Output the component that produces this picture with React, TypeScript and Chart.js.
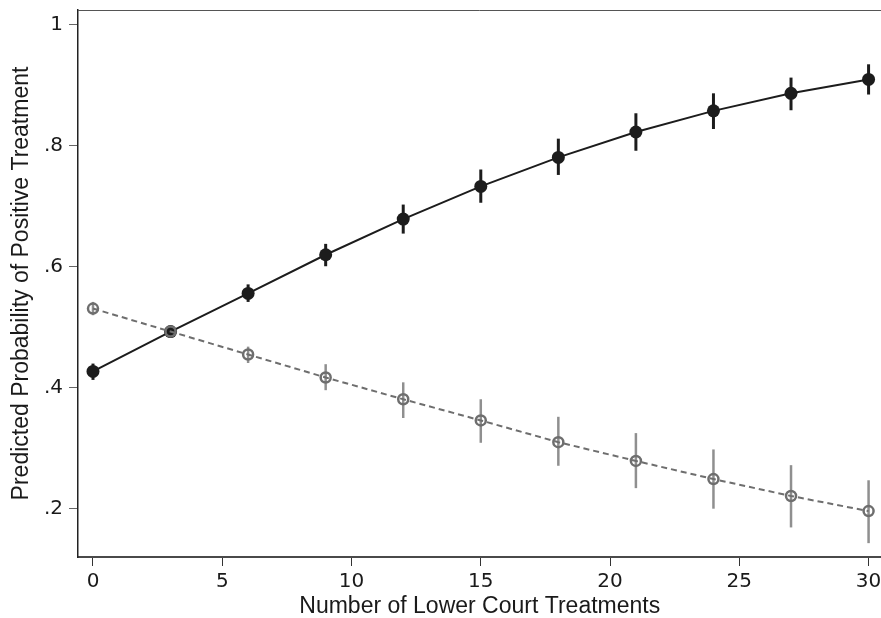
import React, { useEffect, useRef } from "react";
import { Chart, registerables } from "chart.js";

Chart.register(...registerables);

const xValues = [0, 3, 6, 9, 12, 15, 18, 21, 24, 27, 30];
const positiveMean = [0.427, 0.493, 0.556, 0.62, 0.679, 0.733, 0.781, 0.823, 0.858, 0.887, 0.91];
const positiveLow = [0.413, 0.486, 0.542, 0.601, 0.655, 0.706, 0.752, 0.792, 0.828, 0.859, 0.885];
const positiveHigh = [0.44, 0.5, 0.571, 0.638, 0.703, 0.761, 0.812, 0.854, 0.887, 0.913, 0.935];
const negativeMean = [0.531, 0.493, 0.455, 0.417, 0.381, 0.346, 0.31, 0.279, 0.249, 0.221, 0.196];
const negativeLow = [0.52, 0.487, 0.441, 0.396, 0.35, 0.309, 0.271, 0.234, 0.2, 0.169, 0.143];
const negativeHigh = [0.542, 0.5, 0.468, 0.439, 0.409, 0.381, 0.352, 0.325, 0.298, 0.272, 0.247];
const xTicks = [0, 5, 10, 15, 20, 25, 30];
const yTicks = [0.2, 0.4, 0.6, 0.8, 1];
const yTickLabels = [".2", ".4", ".6", ".8", "1"];

const errorBars = {
  id: "errorBars",
  beforeDatasetsDraw(chart: any) {
    const { ctx } = chart;
    const xs = chart.scales.x;
    const ys = chart.scales.y;
    chart.data.datasets.forEach((ds: any) => {
      ctx.save();
      ctx.strokeStyle = ds.ciColor;
      ctx.lineWidth = ds.ciWidth;
      ctx.lineCap = "butt";
      ds.data.forEach((p: any, i: number) => {
        const px = xs.getPixelForValue(p.x);
        ctx.beginPath();
        ctx.moveTo(px, ys.getPixelForValue(ds.ciLow[i]));
        ctx.lineTo(px, ys.getPixelForValue(ds.ciHigh[i]));
        ctx.stroke();
      });
      ctx.restore();
    });
  },
  afterDraw(chart: any) {
    const { ctx, chartArea } = chart;
    ctx.save();
    ctx.strokeStyle = "#555555";
    ctx.lineWidth = 1;
    ctx.beginPath();
    ctx.moveTo(chartArea.left, chartArea.top + 0.5);
    ctx.lineTo(chartArea.right, chartArea.top + 0.5);
    ctx.stroke();
    ctx.restore();
  },
};

const zeroPad = (s: any) => {
  s.paddingTop = 0;
  s.paddingBottom = 0;
  s.paddingLeft = 0;
  s.paddingRight = 0;
  s.getPadding = () => ({ left: 0, right: 0, top: 0, bottom: 0 });
};

export default function App() {
  const ref = useRef<HTMLCanvasElement>(null);
  useEffect(() => {
    if (!ref.current) return;
    const chart = new Chart(ref.current, {
      type: "line",
      data: {
        datasets: [
          {
            label: "Positive",
            data: xValues.map((x, i) => ({ x, y: positiveMean[i] })),
            ciLow: positiveLow,
            ciHigh: positiveHigh,
            ciColor: "#1c1c1c",
            ciWidth: 3,
            borderColor: "#1c1c1c",
            backgroundColor: "#1c1c1c",
            borderWidth: 2,
            pointRadius: 6.5,
            pointBorderWidth: 0,
            pointBackgroundColor: "#1c1c1c",
            tension: 0,
            order: 1,
          } as any,
          {
            label: "Negative",
            data: xValues.map((x, i) => ({ x, y: negativeMean[i] })),
            ciLow: negativeLow,
            ciHigh: negativeHigh,
            ciColor: "#8f8f8f",
            ciWidth: 2.5,
            borderColor: "#6e6e6e",
            backgroundColor: "rgba(0,0,0,0)",
            borderWidth: 2,
            borderDash: [6, 4],
            pointRadius: 5,
            pointBorderWidth: 2.5,
            pointBorderColor: "#6e6e6e",
            pointBackgroundColor: "rgba(0,0,0,0)",
            tension: 0,
            order: 0,
          } as any,
        ],
      },
      options: {
        responsive: false,
        animation: false,
        clip: false as any,
        layout: { padding: { top: 10, left: 0, right: 0, bottom: 0 } },
        plugins: { legend: { display: false }, tooltip: { enabled: false } },
        scales: {
          x: {
            type: "linear",
            min: -0.58,
            max: 30.5,
            afterFit: (s: any) => {
              s.height = 61;
              zeroPad(s);
            },
            afterBuildTicks: (s: any) => {
              s.ticks = xTicks.map((v) => ({ value: v }));
            },
            ticks: {
              color: "#1a1a1a",
              font: { family: "DejaVu Sans", size: 20 },
              padding: 4,
              maxRotation: 0,
              callback: (v: any) => String(v),
            },
            grid: {
              display: true,
              drawOnChartArea: false,
              drawTicks: true,
              tickLength: 9,
              tickWidth: 1,
              tickColor: "#333333",
            },
            border: { display: true, color: "#4a4a4a", width: 2 },
            title: {
              display: true,
              text: "Number of Lower Court Treatments",
              color: "#1a1a1a",
              font: { family: "Liberation Sans", size: 23, lineHeight: 1 },
              padding: { top: 0, bottom: 0 },
            },
          },
          y: {
            type: "linear",
            min: 0.1201,
            max: 1.0248,
            afterFit: (s: any) => {
              s.width = 78;
              zeroPad(s);
            },
            afterBuildTicks: (s: any) => {
              s.ticks = yTicks.map((v) => ({ value: v }));
            },
            ticks: {
              color: "#1a1a1a",
              font: { family: "DejaVu Sans", size: 20 },
              padding: 6,
              callback: (v: any) => {
                const i = yTicks.findIndex((t) => Math.abs(t - v) < 1e-6);
                return i >= 0 ? yTickLabels[i] : "";
              },
            },
            grid: {
              display: true,
              drawOnChartArea: false,
              drawTicks: true,
              tickLength: 9,
              tickWidth: 1,
              tickColor: "#666666",
            },
            border: { display: true, color: "#222222", width: 1.5 },
            title: {
              display: true,
              text: "Predicted Probability of Positive Treatment",
              color: "#1a1a1a",
              font: { family: "Liberation Sans", size: 23, lineHeight: 1 },
              padding: { top: 10, bottom: 0 },
            },
          },
        },
      },
      plugins: [errorBars],
    });
    return () => chart.destroy();
  }, []);
  return (
    <div
      style={{
        position: "absolute",
        left: 0,
        top: 0,
        width: 881,
        height: 618,
        overflow: "hidden",
        background: "#ffffff",
      }}
    >
      <canvas
        ref={ref}
        width={889}
        height={618}
        style={{ display: "block", background: "#ffffff" }}
      />
    </div>
  );
}
